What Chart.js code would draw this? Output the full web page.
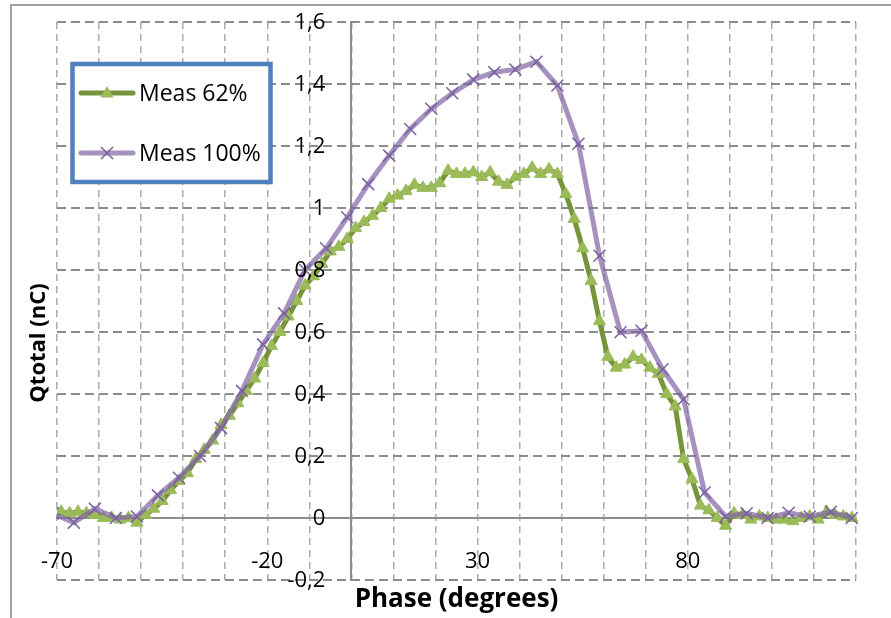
<!DOCTYPE html>
<html>
<head>
<meta charset="utf-8">
<script src="https://cdn.jsdelivr.net/npm/chart.js@4.4.1/dist/chart.umd.min.js"></script>
<style>
    html, body { margin: 0; padding: 0; background: #fff; }
    #wrap { position: relative; width: 891px; height: 618px; overflow: hidden; }
    #frame { position: absolute; left: 10px; top: 4px; width: 900px; height: 700px;
             border-left: 2px solid #a3a3a3; border-top: 2px solid #a3a3a3; }
    #chart { position: absolute; left: 0; top: 0; }
</style>
</head>
<body>
<div id="wrap">
    <div id="frame"></div>
    <canvas id="chart" width="891" height="618"></canvas>
</div>
<script>
/* ==========================================================================
   DATA
   ========================================================================== */
const seriesLabels = ['Meas 62%', 'Meas 100%'];

const phase62 = [
    -71, -69, -67, -65, -63, -61, -59, -57, -55, -53, -51, -49, -47, -45, -43, -41,
    -39, -37, -35, -33, -31, -29, -27, -25, -23, -21, -19, -17, -15, -13, -11, -9,
    -7, -5, -3, -1, 1, 3, 5, 7, 9, 11, 13, 15, 17, 19, 21, 23,
    25, 27, 29, 31, 33, 35, 37, 39, 41, 43, 45, 47, 49, 51, 53, 55,
    57, 59, 61, 63, 65, 67, 69, 71, 73, 75, 77, 79, 81, 83, 85, 87,
    89, 91, 93, 95, 97, 99, 101, 103, 105, 107, 109, 111, 113, 115, 117, 119
];
const meas62 = [
    0.015, 0.02, 0.015, 0.02, 0.015, 0.01, 0.0, 0.0, -0.005, 0.0, -0.015, 0.01, 0.03, 0.055, 0.09, 0.12,
    0.145, 0.19, 0.22, 0.25, 0.30, 0.33, 0.37, 0.41, 0.45, 0.50, 0.555, 0.60, 0.65, 0.70, 0.75, 0.78,
    0.82, 0.86, 0.875, 0.90, 0.935, 0.955, 0.975, 1.0, 1.03, 1.04, 1.055, 1.075, 1.065, 1.065, 1.08, 1.12,
    1.11, 1.11, 1.115, 1.10, 1.115, 1.085, 1.075, 1.10, 1.11, 1.13, 1.11, 1.125, 1.11, 1.045, 0.965, 0.87,
    0.765, 0.635, 0.52, 0.485, 0.495, 0.52, 0.51, 0.485, 0.465, 0.40, 0.36, 0.19, 0.125, 0.04, 0.025, 0.0,
    -0.025, 0.015, 0.01, -0.005, 0.005, 0.0, -0.005, -0.005, -0.01, 0.0, 0.005, -0.005, 0.02, 0.01, 0.005, 0.0
];

const phase100 = [
    -71, -66, -61, -56, -51, -46, -41, -36, -31, -26, -21, -16, -11, -6, -1, 4,
    9, 14, 19, 24, 29, 34, 39, 44, 49, 54, 59, 64, 69, 74, 79, 84,
    89, 94, 99, 104, 109, 114, 119
];
const meas100 = [
    0.015, -0.015, 0.03, 0.0, 0.005, 0.073, 0.13, 0.20, 0.29, 0.41, 0.56, 0.66, 0.80, 0.87, 0.97, 1.077,
    1.169, 1.255, 1.32, 1.37, 1.414, 1.438, 1.447, 1.472, 1.395, 1.207, 0.846, 0.599, 0.604, 0.48, 0.383, 0.082,
    0.005, 0.015, 0.0, 0.017, 0.005, 0.02, 0.0
];

const xTitle = 'Phase (degrees)';
const yTitle = 'Qtotal (nC)';

/* ==========================================================================
   STYLE
   ========================================================================== */
const FONT = "'Open Sans', 'Noto Sans', sans-serif";
const GREEN_LINE = '#77933C', GREEN_MARK = '#9BBB59';
const PURPLE_LINE = 'rgba(128, 100, 162, 0.7)', PURPLE_MARK = '#7B5FA0';

const toPoints = (xs, ys) => xs.map((x, i) => ({ x, y: ys[i] }));
const fmtY = v => String(Math.round(v * 10) / 10).replace('.', ',');

// y tick labels (sit left of the x=0 axis), axis titles, boxed legend
const decorations = {
    id: 'decorations',
    afterDraw(chart) {
        const { ctx, chartArea } = chart;
        const ys = chart.scales.y;
        const x0 = chart.scales.x.getPixelForValue(0);
        ctx.save();
        ctx.fillStyle = '#000';

        ctx.font = `22px ${FONT}`;
        ctx.textAlign = 'right';
        ctx.textBaseline = 'middle';
        ys.ticks.forEach(t => ctx.fillText(fmtY(t.value), x0 - 26, ys.getPixelForValue(t.value) + 1));

        ctx.font = `bold 26px ${FONT}`;
        ctx.textAlign = 'center';
        ctx.textBaseline = 'alphabetic';
        ctx.fillText(xTitle, (chartArea.left + chartArea.right) / 2, 607);

        ctx.save();
        ctx.translate(39, 343);
        ctx.rotate(-Math.PI / 2);
        ctx.font = `bold 22px ${FONT}`;
        ctx.textBaseline = 'middle';
        ctx.fillText(yTitle, 0, 0);
        ctx.restore();

        // legend box
        ctx.fillStyle = '#fff';
        ctx.fillRect(72.5, 64, 198, 118);
        ctx.lineWidth = 4.5;
        ctx.strokeStyle = '#4F81BD';
        ctx.strokeRect(72.5, 64, 198, 118);

        const rows = [
            { y: 93, line: GREEN_LINE, mark: 'triangle' },
            { y: 153, line: PURPLE_LINE, mark: 'cross' }
        ];
        rows.forEach((r, i) => {
            ctx.lineCap = 'round';
            ctx.lineWidth = 5;
            ctx.strokeStyle = r.line;
            ctx.beginPath();
            ctx.moveTo(81, r.y);
            ctx.lineTo(133, r.y);
            ctx.stroke();
            if (r.mark === 'triangle') {
                ctx.fillStyle = GREEN_MARK;
                ctx.beginPath();
                ctx.moveTo(107, r.y - 7);
                ctx.lineTo(113.5, r.y + 4.5);
                ctx.lineTo(100.5, r.y + 4.5);
                ctx.closePath();
                ctx.fill();
            } else {
                ctx.lineCap = 'butt';
                ctx.lineWidth = 1.5;
                ctx.strokeStyle = PURPLE_MARK;
                ctx.beginPath();
                ctx.moveTo(101, r.y - 6); ctx.lineTo(113, r.y + 6);
                ctx.moveTo(113, r.y - 6); ctx.lineTo(101, r.y + 6);
                ctx.stroke();
            }
            ctx.fillStyle = '#000';
            ctx.font = `23px ${FONT}`;
            ctx.textAlign = 'left';
            ctx.textBaseline = 'alphabetic';
            ctx.fillText(seriesLabels[i], 139, r.y + 8);
        });
        ctx.restore();
    }
};

new Chart(document.getElementById('chart').getContext('2d'), {
    type: 'scatter',
    data: {
        datasets: [
            {
                label: seriesLabels[1],
                data: toPoints(phase100, meas100),
                showLine: true,
                borderColor: PURPLE_LINE,
                borderWidth: 5,
                pointStyle: 'crossRot',
                pointRadius: 8.5,
                pointBorderColor: PURPLE_MARK,
                pointBackgroundColor: PURPLE_MARK,
                pointBorderWidth: 1.5,
                clip: { left: 0, top: 8, right: 8, bottom: 8 }
            },
            {
                label: seriesLabels[0],
                data: toPoints(phase62, meas62),
                showLine: true,
                borderColor: GREEN_LINE,
                borderWidth: 5,
                pointStyle: 'triangle',
                pointRadius: 7,
                pointBorderColor: GREEN_MARK,
                pointBackgroundColor: GREEN_MARK,
                pointBorderWidth: 1,
                clip: { left: 0, top: 8, right: 8, bottom: 8 }
            }
        ]
    },
    options: {
        responsive: false,
        animation: false,
        layout: { padding: { left: 57, top: 22, right: 35, bottom: 38 } },
        plugins: { legend: { display: false }, tooltip: { enabled: false } },
        scales: {
            x: {
                type: 'linear',
                min: -70, max: 120,
                position: { y: 0 },
                grid: { color: '#ababab', lineWidth: 1.5, drawTicks: false },
                border: { display: true, color: '#8c8c8c', width: 2, dash: [7, 5] },
                ticks: {
                    stepSize: 10, autoSkip: false, maxRotation: 0, padding: 31,
                    color: '#000', font: { family: FONT, size: 22 },
                    callback: v => ((v + 70) % 50 === 0 ? String(v) : '')
                }
            },
            y: {
                min: -0.2, max: 1.6,
                position: { x: 0 },
                grid: { color: '#8c8c8c', lineWidth: 2, drawTicks: false },
                border: { display: true, color: '#8c8c8c', width: 2, dash: [9, 5] },
                ticks: { stepSize: 0.2, display: false }
            }
        }
    },
    plugins: [decorations]
});
</script>
</body>
</html>
